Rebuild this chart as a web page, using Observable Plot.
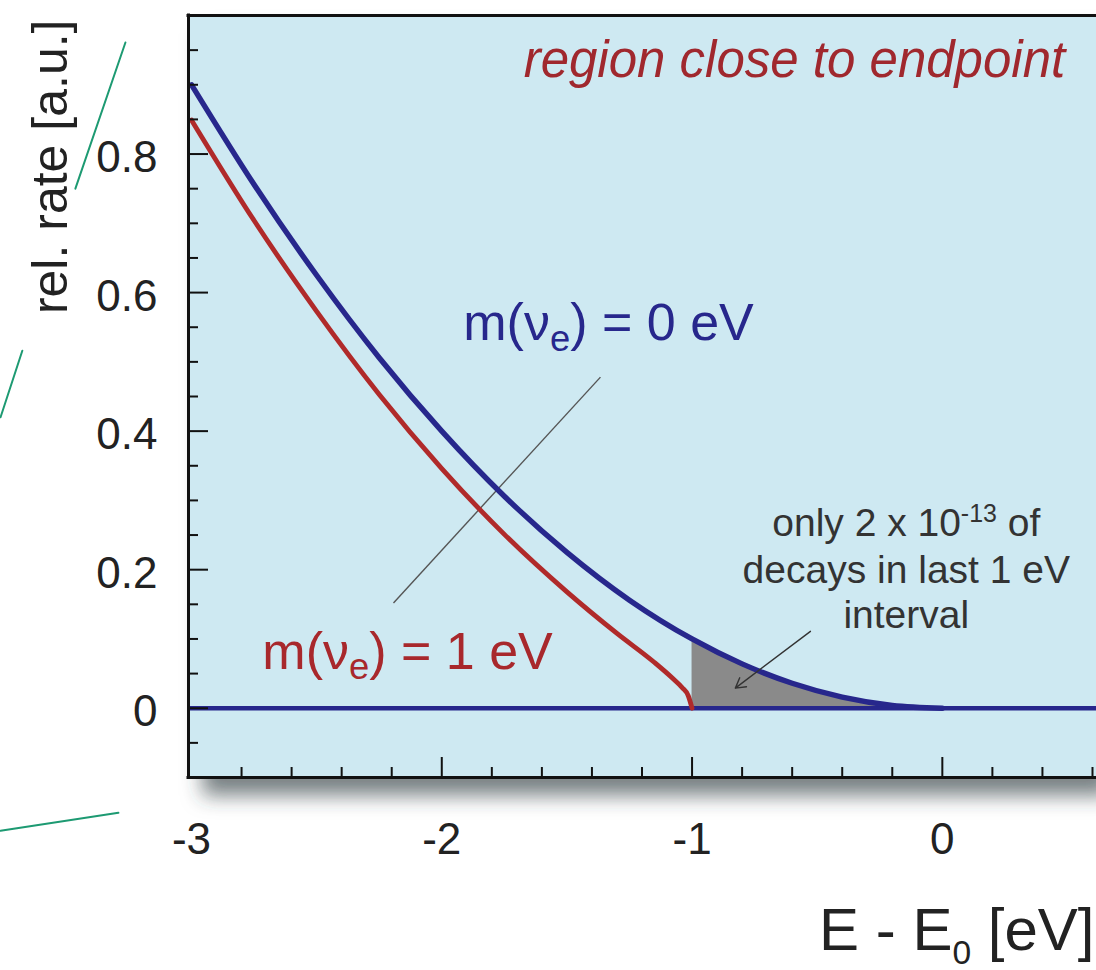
<!DOCTYPE html>
<html>
<head>
<meta charset="utf-8">
<script src="https://cdn.jsdelivr.net/npm/d3@7"></script>
<script src="https://cdn.jsdelivr.net/npm/@observablehq/plot@0.6"></script>
<style>
  html, body { margin: 0; padding: 0; background: #ffffff; }
  #chart { width: 1096px; height: 970px; overflow: hidden; }
</style>
</head>
<body>
<div id="chart"></div>
<script>
// ---- data ----
// m(nu_e) = 0 eV spectrum
const energyBlue = [-3, -2.75, -2.5, -2.25, -2, -1.75, -1.5, -1.25, -1, -0.8, -0.6, -0.4, -0.2, 0];
const rateBlue   = [0.900, 0.756, 0.625, 0.506, 0.400, 0.306, 0.225, 0.156, 0.100, 0.064, 0.036, 0.016, 0.004, 0];
// m(nu_e) = 1 eV spectrum
const energyRed = [-3, -2.75, -2.5, -2.25, -2, -1.75, -1.5, -1.3, -1.15, -1.08, -1.04, -1.015, -1.0];
const rateRed   = [0.849, 0.704, 0.573, 0.453, 0.346, 0.251, 0.168, 0.108, 0.066, 0.044, 0.030, 0.018, 0.0];
// last 1 eV interval (shaded)
const shadeStart = -1;

// axes
const xDomain = [-3.012, 0.616];
const yDomain = [-0.1, 1.0];
const xTickLabels = [-3, -2, -1, 0];
const xMajorTicks = [-2, -1, 0];
const xMinorTicks = [-2.8, -2.6, -2.4, -2.2, -1.8, -1.6, -1.4, -1.2, -0.8, -0.6, -0.4, -0.2, 0.2, 0.4, 0.6];
const yTickLabels = [0, 0.2, 0.4, 0.6, 0.8];
const yMajorTicks = [0, 0.2, 0.4, 0.6, 0.8];
const yMinorTicks = [-0.05, 0.05, 0.1, 0.15, 0.25, 0.3, 0.35, 0.45, 0.5, 0.55, 0.65, 0.7, 0.75, 0.85, 0.9, 0.95];
const xLabel = "E - E_{0} [eV]";
const yLabel = "rel. rate [a.u.]";

// annotations (text + anchor in data units)
const titleText = ["region close to endpoint"];
const titleAt = [{x: 0.491, y: 0.9105}];
const seriesLabels = ["m(ν_{e}) = 0 eV", "m(ν_{e}) = 1 eV"];
const seriesLabelAt = [{x: -1.914, y: 0.531}, {x: -2.717, y: 0.0573}];
const noteLines = ["only 2 x 10^{-13} of", "decays in last 1 eV", "interval"];
const noteAt = [{x: -0.144, y: 0.2493}, {x: -0.144, y: 0.1814}, {x: -0.144, y: 0.1151}];
const leaderLine = [{x1: -2.193, y1: 0.152, x2: -1.366, y2: 0.478}];
const noteArrow = [{x1: -0.527, y1: 0.111, x2: -0.827, y2: 0.029}];
// stray green strokes at the left border of the scanned figure
const strayStrokes = [
  {id: 1, x: -3.264, y: 0.961}, {id: 1, x: -3.464, y: 0.750},
  {id: 2, x: -3.676, y: 0.516}, {id: 2, x: -3.763, y: 0.420},
  {id: 3, x: -3.763, y: -0.177}, {id: 3, x: -3.292, y: -0.151}
];

// ---- tables built from the arrays ----
const blue = energyBlue.map((e, i) => ({x: e, y: rateBlue[i]}));
const red = energyRed.map((e, i) => ({x: e, y: rateRed[i]}));
const shaded = blue.filter(d => d.x >= shadeStart);
const titles = titleText.map((t, i) => ({...titleAt[i], t}));
const series = seriesLabels.map((t, i) => ({...seriesLabelAt[i], t}));
const notes = noteLines.map((t, i) => ({...noteAt[i], t}));

const BLUE = "#27278c";
const RED = "#b02a2a";
const BG = "#cee9f2";
const FONT = "'Liberation Sans', Arial, Helvetica, sans-serif";

const W = 1096, H = 970, ML = 188, MR = 0, MT = 15, MB = 193;
const PW = W - ML - MR, PH = H - MT - MB;

const chart = Plot.plot({
  width: W, height: H,
  marginLeft: ML, marginRight: MR, marginTop: MT, marginBottom: MB,
  x: {domain: xDomain, axis: null},
  y: {domain: yDomain, axis: null},
  style: {fontFamily: FONT, background: "white", overflow: "visible", color: "#222"},
  marks: [
    Plot.frame({fill: BG, stroke: null}),
    Plot.line(strayStrokes, {x: "x", y: "y", z: "id", stroke: "#1d9a72", strokeWidth: 2}),
    Plot.areaY(shaded, {x: "x", y: "y", fill: "#8a8a8a", curve: "monotone-x"}),
    Plot.link(leaderLine, {x1: "x1", y1: "y1", x2: "x2", y2: "y2", stroke: "#555", strokeWidth: 1.4}),
    Plot.ruleY([0], {stroke: BLUE, strokeWidth: 4.5}),
    Plot.line(red, {x: "x", y: "y", stroke: RED, strokeWidth: 4.8, curve: "monotone-x"}),
    Plot.line(blue, {x: "x", y: "y", stroke: BLUE, strokeWidth: 5.4, curve: "monotone-x"}),
    Plot.arrow(noteArrow, {x1: "x1", y1: "y1", x2: "x2", y2: "y2", stroke: "#333", strokeWidth: 1.4, headLength: 12}),
    // inward ticks
    Plot.tickY(yMajorTicks, {y: d => d, insetRight: PW - 20, stroke: "#111", strokeWidth: 2}),
    Plot.tickY(yMinorTicks, {y: d => d, insetRight: PW - 10, stroke: "#111", strokeWidth: 2}),
    Plot.tickX(xMajorTicks, {x: d => d, insetTop: PH - 20, stroke: "#111", strokeWidth: 2}),
    Plot.tickX(xMinorTicks, {x: d => d, insetTop: PH - 10, stroke: "#111", strokeWidth: 2}),
    // frame lines (left, top, bottom)
    Plot.ruleX([xDomain[0]], {stroke: "#111", strokeWidth: 3, strokeLinecap: "square"}),
    Plot.ruleY(yDomain, {stroke: "#111", strokeWidth: 3, strokeLinecap: "square"}),
    // tick labels
    Plot.text(yTickLabels, {y: d => d, text: d => String(d), frameAnchor: "left", textAnchor: "end", lineAnchor: "middle", dx: -31, dy: 4, fontSize: 44, fill: "#222"}),
    Plot.text(xTickLabels, {x: d => d, text: d => String(d), frameAnchor: "bottom", lineAnchor: "top", dy: 45, fontSize: 44, fill: "#222"}),
    // axis titles
    Plot.text([yLabel], {frameAnchor: "top-left", rotate: -90, textAnchor: "end", lineAnchor: "bottom", dx: -122, dy: 4, fontSize: 50, fill: "#222"}),
    Plot.text([xLabel], {frameAnchor: "bottom-right", textAnchor: "end", lineAnchor: "bottom", dx: -2, dy: 172, fontSize: 60, fill: "#222"}),
    // annotations
    Plot.text(titles, {x: "x", y: "y", text: "t", textAnchor: "end", lineAnchor: "bottom", fontSize: 51, fontStyle: "italic", fill: "#a0282e"}),
    Plot.text(series, {x: "x", y: "y", text: "t", textAnchor: "start", lineAnchor: "bottom", fontSize: 52, fill: (d, i) => i === 0 ? BLUE : "#a8282c"}),
    Plot.text(notes, {x: "x", y: "y", text: "t", textAnchor: "middle", lineAnchor: "bottom", fontSize: 39, fill: "#333"})
  ]
});

document.getElementById("chart").appendChild(chart);

// drop shadow under the plotting box
const NS = "http://www.w3.org/2000/svg";
const defs = document.createElementNS(NS, "defs");
defs.innerHTML = '<filter id="boxShadow" x="-10%" y="-10%" width="125%" height="125%">' +
  '<feDropShadow dx="14" dy="18" stdDeviation="10" flood-color="#2e3c42" flood-opacity="0.65"/></filter>';
chart.insertBefore(defs, chart.firstChild);
const frameEl = chart.querySelector('[aria-label="frame"]');
if (frameEl) {
  const r = frameEl.tagName.toLowerCase() === "rect" ? frameEl : frameEl.querySelector("rect");
  if (r) r.setAttribute("filter", "url(#boxShadow)");
}

// sub/superscripts written as _{..} and ^{..}
chart.querySelectorAll("text").forEach(t => {
  const s = t.textContent;
  if (!/[_^]\{/.test(s)) return;
  const fs = parseFloat(getComputedStyle(t).fontSize) || 40;
  const big = fs >= 58;
  while (t.firstChild) t.removeChild(t.firstChild);
  const re = /([_^])\{([^}]*)\}/g;
  let last = 0, m, shift = 0;
  const add = (txt, kind) => {
    if (!txt) return;
    const ts = document.createElementNS(NS, "tspan");
    ts.textContent = txt;
    let target = 0;
    if (kind === "_") {
      target = fs * (big ? 0.24 : 0.2);
      ts.setAttribute("font-size", fs * (big ? 0.56 : 0.7));
    } else if (kind === "^") {
      target = -fs * 0.34;
      ts.setAttribute("font-size", fs * 0.64);
    }
    const d = target - shift;
    if (d) ts.setAttribute("dy", d);
    shift = target;
    t.appendChild(ts);
  };
  while ((m = re.exec(s))) {
    add(s.slice(last, m.index), null);
    add(m[2], m[1]);
    last = re.lastIndex;
  }
  add(s.slice(last), null);
});
</script>
</body>
</html>
